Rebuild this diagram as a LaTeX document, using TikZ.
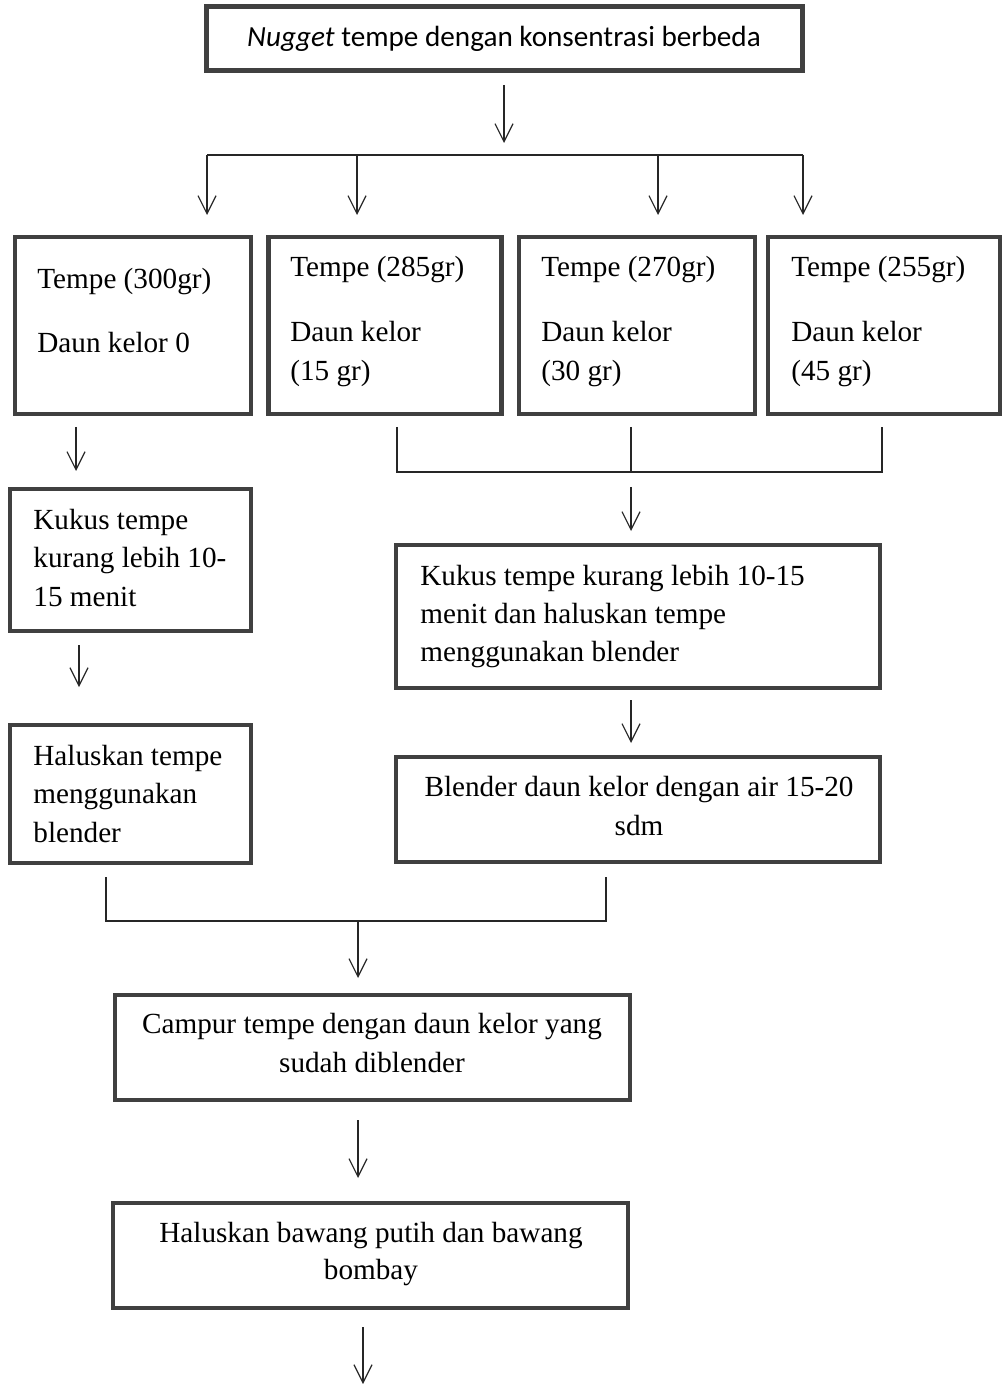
\documentclass[tikz,border=0pt]{standalone}
\usepackage{fontspec}
\setmainfont{Liberation Serif}
\newfontfamily\calfont{Carlito}
\usetikzlibrary{arrows.meta,fit}
\begin{document}
\begin{tikzpicture}[x=0.5pt,y=-0.5pt,
  box/.style={draw=black!75, line width=2.25pt, inner sep=0pt, outer sep=0pt},
  txt/.style={font=\fontsize{14.6}{17.5}\selectfont, inner sep=0pt, anchor=base west},
  ctxt/.style={font=\fontsize{14.6}{17.5}\selectfont, inner sep=0pt, anchor=base},
  ttl/.style={font=\fontsize{14.6}{17.5}\calfont, inner sep=0pt, anchor=base},
  conn/.style={draw=black!85, line width=0.6pt},
  arr/.style={conn, -{Straight Barb[length=9pt,width=9pt,line width=0.6pt]}}]
\useasboundingbox (0,0) rectangle (1002,1384);

% boxes
\node[box, fit={(206.5,6.5) (802.5,70.5)}] (top) {};
\node[box, fit={(15,237) (251,414)}] (b1) {};
\node[box, fit={(268.5,237) (501.5,414)}] (b2) {};
\node[box, fit={(519,237) (755,414)}] (b3) {};
\node[box, fit={(768,237) (1000,414)}] (b4) {};
\node[box, fit={(10,489) (251,631)}] (kukusL) {};
\node[box, fit={(10,725) (251,863)}] (halusL) {};
\node[box, fit={(396,545) (880,688)}] (kukusR) {};
\node[box, fit={(396,757) (880,862)}] (blender) {};
\node[box, fit={(115,995) (630,1100)}] (campur) {};
\node[box, fit={(113,1203) (628,1308)}] (halusB) {};

% texts
\node[ttl] (t0) at (504,47) {\textit{Nugget} tempe dengan konsentrasi berbeda};

\node[txt] (t1a) at (37,289) {Tempe (300gr)};
\node[txt] (t1b) at (37,353) {Daun kelor 0};

\node[txt] (t2a) at (290,277) {Tempe (285gr)};
\node[txt] (t2b) at (290,342) {Daun kelor};
\node[txt] (t2c) at (290,381) {(15 gr)};

\node[txt] (t3a) at (541,277) {Tempe (270gr)};
\node[txt] (t3b) at (541,342) {Daun kelor};
\node[txt] (t3c) at (541,381) {(30 gr)};

\node[txt] (t4a) at (791,277) {Tempe (255gr)};
\node[txt] (t4b) at (791,342) {Daun kelor};
\node[txt] (t4c) at (791,381) {(45 gr)};

\node[txt] (tkL1) at (33,530) {Kukus tempe};
\node[txt] (tkL2) at (33,567) {kurang lebih 10-};
\node[txt] (tkL3) at (33,606) {15 menit};

\node[txt] (thL1) at (33,765) {Haluskan tempe};
\node[txt] (thL2) at (33,803) {menggunakan};
\node[txt] (thL3) at (33,842) {blender};

\node[txt] (tkR1) at (420,585) {Kukus tempe kurang lebih 10-15};
\node[txt] (tkR2) at (420,623) {menit dan haluskan tempe};
\node[txt] (tkR3) at (420,661) {menggunakan blender};

\node[ctxt] (tbl1) at (639,796) {Blender daun kelor dengan air 15-20};
\node[ctxt] (tbl2) at (639,835) {sdm};

\node[ctxt] (tc1) at (372,1033) {Campur tempe dengan daun kelor yang};
\node[ctxt] (tc2) at (372,1072) {sudah diblender};

\node[ctxt] (th1) at (371,1242) {Haluskan bawang putih dan bawang};
\node[ctxt] (th2) at (371,1279) {bombay};

% connector points
\coordinate (a0s) at (504,85);   \coordinate (a0e) at (504,143);
\coordinate (hl) at (207,155);   \coordinate (hr) at (803,155);
\coordinate (s1) at (207,155);   \coordinate (e1) at (207,215);
\coordinate (s2) at (357,155);   \coordinate (e2) at (357,215);
\coordinate (s3) at (658,155);   \coordinate (e3) at (658,215);
\coordinate (s4) at (803,155);   \coordinate (e4) at (803,215);

\coordinate (a1s) at (76,427);   \coordinate (a1e) at (76,471);
\coordinate (u2) at (397,427);   \coordinate (v2) at (397,472);
\coordinate (u3) at (631,427);   \coordinate (v3) at (631,472);
\coordinate (u4) at (882,427);   \coordinate (v4) at (882,472);
\coordinate (a2s) at (631,487);  \coordinate (a2e) at (631,531);

\coordinate (a3s) at (79,645);   \coordinate (a3e) at (79,687);
\coordinate (a4s) at (631,700);  \coordinate (a4e) at (631,743);

\coordinate (p1) at (106,877);   \coordinate (q1) at (106,921);
\coordinate (p2) at (606,877);   \coordinate (q2) at (606,921);
\coordinate (m1) at (358,921);   \coordinate (m2) at (358,978);

\coordinate (a5s) at (358,1120); \coordinate (a5e) at (358,1178);
\coordinate (a6s) at (363,1327); \coordinate (a6e) at (363,1384);

% connectors
\draw[arr] (a0s) -- (a0e);
\draw[conn] (hl) -- (hr);
\draw[arr] (s1) -- (e1);
\draw[arr] (s2) -- (e2);
\draw[arr] (s3) -- (e3);
\draw[arr] (s4) -- (e4);

\draw[arr] (a1s) -- (a1e);
\draw[conn] (u2) -- (v2) -- (v4) -- (u4);
\draw[conn] (u3) -- (v3);
\draw[arr] (a2s) -- (a2e);

\draw[arr] (a3s) -- (a3e);
\draw[arr] (a4s) -- (a4e);

\draw[conn] (p1) -- (q1) -- (q2) -- (p2);
\draw[arr] (m1) -- (m2);

\draw[arr] (a5s) -- (a5e);
\draw[arr] (a6s) -- (a6e);
\end{tikzpicture}
\end{document}
